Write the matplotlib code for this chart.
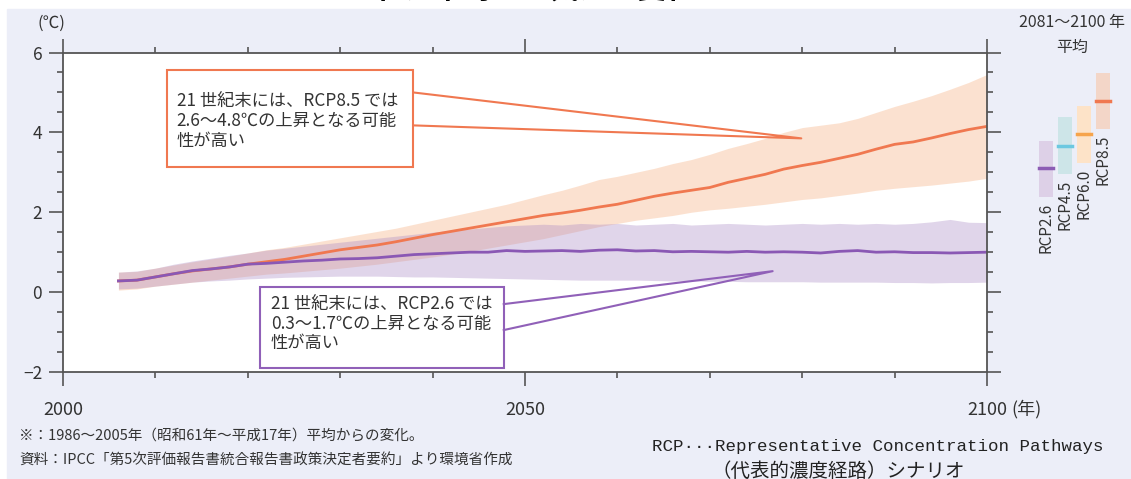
import numpy as np
import matplotlib.pyplot as plt
from matplotlib.patches import Rectangle
from matplotlib.ticker import MultipleLocator, FixedLocator

plt.rcParams['font.family'] = ['Noto Sans CJK JP', 'DejaVu Sans']

# --- data (2-year steps) ---
years = np.arange(2006, 2101, 2)

rcp85_mean = [0.28, 0.30, 0.38, 0.46, 0.53, 0.58, 0.63, 0.70, 0.76, 0.82, 0.90, 0.98,
              1.06, 1.12, 1.18, 1.26, 1.35, 1.44, 1.52, 1.60, 1.68, 1.76, 1.84, 1.92,
              1.98, 2.05, 2.13, 2.20, 2.30, 2.40, 2.48, 2.55, 2.62, 2.75, 2.85, 2.95,
              3.08, 3.17, 3.25, 3.35, 3.45, 3.58, 3.70, 3.76, 3.86, 3.97, 4.07, 4.15]
rcp85_hi = [0.50, 0.52, 0.60, 0.68, 0.76, 0.83, 0.90, 0.98, 1.06, 1.12, 1.20, 1.28,
            1.36, 1.44, 1.52, 1.60, 1.70, 1.80, 1.90, 2.00, 2.10, 2.20, 2.32, 2.44,
            2.55, 2.68, 2.82, 2.90, 3.00, 3.10, 3.22, 3.32, 3.45, 3.60, 3.72, 3.85,
            4.00, 4.12, 4.18, 4.24, 4.35, 4.50, 4.65, 4.78, 4.92, 5.08, 5.25, 5.45]
rcp85_lo = [0.05, 0.08, 0.15, 0.20, 0.25, 0.30, 0.35, 0.40, 0.45, 0.48, 0.52, 0.56,
            0.60, 0.65, 0.70, 0.76, 0.82, 0.88, 0.95, 1.02, 1.10, 1.18, 1.26, 1.34,
            1.44, 1.54, 1.64, 1.72, 1.80, 1.86, 1.92, 2.00, 2.06, 2.10, 2.15, 2.20,
            2.26, 2.32, 2.36, 2.42, 2.48, 2.55, 2.60, 2.64, 2.68, 2.73, 2.78, 2.85]

rcp26_mean = [0.28, 0.30, 0.38, 0.46, 0.54, 0.58, 0.63, 0.70, 0.72, 0.75, 0.78, 0.80,
              0.83, 0.84, 0.86, 0.90, 0.94, 0.96, 0.98, 1.00, 1.00, 1.04, 1.02, 1.03,
              1.04, 1.02, 1.05, 1.06, 1.03, 1.04, 1.01, 1.02, 1.01, 1.00, 1.02, 1.00,
              1.01, 1.00, 0.98, 1.02, 1.04, 1.00, 1.01, 0.99, 0.99, 0.98, 0.99, 1.00]
rcp26_hi = [0.50, 0.53, 0.60, 0.70, 0.78, 0.85, 0.92, 0.98, 1.05, 1.10, 1.15, 1.20,
            1.25, 1.30, 1.35, 1.40, 1.45, 1.50, 1.55, 1.58, 1.62, 1.66, 1.68, 1.70,
            1.68, 1.72, 1.70, 1.72, 1.68, 1.70, 1.72, 1.68, 1.70, 1.72, 1.70, 1.68,
            1.70, 1.72, 1.70, 1.72, 1.70, 1.72, 1.70, 1.72, 1.76, 1.82, 1.75, 1.74]
rcp26_lo = [0.08, 0.10, 0.15, 0.20, 0.25, 0.28, 0.30, 0.33, 0.35, 0.37, 0.38, 0.39,
            0.40, 0.40, 0.40, 0.39, 0.38, 0.38, 0.37, 0.36, 0.35, 0.34, 0.33, 0.32,
            0.31, 0.30, 0.30, 0.30, 0.30, 0.29, 0.28, 0.28, 0.27, 0.27, 0.26, 0.26,
            0.26, 0.26, 0.25, 0.25, 0.25, 0.25, 0.24, 0.24, 0.23, 0.24, 0.24, 0.25]

# 2081-2100 average bars (as drawn in the picture)
bar_names = ['RCP2.6', 'RCP4.5', 'RCP6.0', 'RCP8.5']
bar_lo = [2.38, 2.95, 3.23, 4.08]
bar_hi = [3.78, 4.38, 4.65, 5.48]
bar_mid = [3.10, 3.65, 3.95, 4.78]
bar_fill = ['#ddd0e7', '#cde5e8', '#fde3c8', '#f3d6c8']
bar_line = ['#8c5cb4', '#6cc8e0', '#f6a44c', '#f07850']

W, H = 1131, 479
fig = plt.figure(figsize=(W / 100, H / 100), dpi=100)

# lavender backdrop
bg = fig.add_axes([0, 0, 1, 1], zorder=-10)
bg.set_xlim(0, W)
bg.set_ylim(H, 0)
bg.axis('off')
bg.add_patch(Rectangle((7, 9), W, H, color='#eceef8'))

ax = fig.add_axes([63 / W, (H - 372) / H, (987 - 63) / W, (372 - 52.5) / H])
ax.set_facecolor('white')

ax.fill_between(years, rcp85_lo, rcp85_hi, color='#f5a46e', alpha=0.32, lw=0)
ax.fill_between(years, rcp26_lo, rcp26_hi, color='#a888c4', alpha=0.35, lw=0)
ax.plot(years, rcp85_mean, color='#f07850', lw=2)
ax.plot(years, rcp26_mean, color='#8a58b4', lw=2)

ax.set_xlim(2000, 2100)
ax.set_ylim(-2, 6)
ax.xaxis.set_major_locator(FixedLocator([2000, 2050, 2100]))
ax.xaxis.set_minor_locator(MultipleLocator(10))
ax.yaxis.set_major_locator(MultipleLocator(2))
ax.yaxis.set_minor_locator(MultipleLocator(0.5))
ax.set_xticklabels(['2000', '2050', '2100'])
for s in ax.spines.values():
    s.set_color('#555555')
    s.set_linewidth(1.3)
ax.tick_params(which='both', direction='out', top=True, right=True, color='#555555',
               width=1.2, labelcolor='#333333')
ax.tick_params(which='major', length=10)
ax.tick_params(which='minor', length=4.3)
ax.tick_params(axis='x', which='major', pad=11, labelsize=13)
ax.tick_params(axis='y', which='major', pad=5, labelsize=12.5)
ax.annotate('(年)', xy=(2100, -2), xytext=(24, -37), textcoords='offset pixels',
            fontsize=13, color='#333333', ha='left', va='center', annotation_clip=False)
ax.text(-0.012, 1.09, '(℃)', transform=ax.transAxes, fontsize=12, color='#333333',
        ha='center', va='center')

# callout boxes
orange = '#f07850'
purple = '#9060b8'
ax.add_patch(Rectangle((2011.26, 3.125), 26.62, 2.425, facecolor='white', edgecolor=orange,
                       lw=1.5, zorder=5))
ax.plot([2037.9, 2079.9, 2037.9], [5.0, 3.85, 4.175], color=orange, lw=1.5, zorder=5)
for i, line in enumerate(['21 世紀末には、RCP8.5 では', '2.6～4.8℃の上昇となる可能', '性が高い']):
    ax.text(2012.3, 4.775 - 0.5 * i, line, fontsize=12.4, color='#333333', va='center',
            zorder=6)

ax.add_patch(Rectangle((2021.3, -1.9), 26.4, 2.025, facecolor='white', edgecolor=purple,
                       lw=1.5, zorder=5))
ax.plot([2047.7, 2076.8, 2047.7], [-0.3, 0.525, -0.95], color=purple, lw=1.5, zorder=5)
for i, line in enumerate(['21 世紀末には、RCP2.6 では', '0.3～1.7℃の上昇となる可能', '性が高い']):
    ax.text(2022.5, -0.325 - 0.475 * i, line, fontsize=12.4, color='#333333', va='center',
            zorder=6)

# side bars
bx = fig.add_axes([1036.5 / W, (H - 372) / H, 76 / W, (372 - 52.5) / H])
bx.set_xlim(-0.5, 3.5)
bx.set_ylim(-2, 6)
bx.axis('off')
pos = np.arange(len(bar_names))
bx.bar(pos, np.array(bar_hi) - np.array(bar_lo), bottom=bar_lo, width=0.74, color=bar_fill)
for p, m, lo, c, name in zip(pos, bar_mid, bar_lo, bar_line, bar_names):
    bx.plot([p - 0.37, p + 0.37], [m, m], color=c, lw=2.5)
    bx.text(p, lo - 0.14, name, rotation=90, ha='center', va='top', fontsize=11,
            color='#333333')

fig.text(1072 / W, 1 - 23 / H, '2081～2100 年', fontsize=11.5, color='#333333',
         ha='center', va='center')
fig.text(1072 / W, 1 - 47 / H, '平均', fontsize=11.5, color='#333333',
         ha='center', va='center')

# title (cut off at the top edge) and notes
fig.text(536 / W, 1 + 10 / H, '世界平均地上気温の変化', fontsize=21, weight='bold',
         ha='center', va='center')
fig.text(19 / W, 1 - 436 / H, '※：1986～2005年（昭和61年～平成17年）平均からの変化。',
         fontsize=10.5, color='#333333', va='center')
fig.text(19 / W, 1 - 460 / H, '資料：IPCC「第5次評価報告書統合報告書政策決定者要約」より環境省作成',
         fontsize=10.5, color='#333333', va='center')
fig.text(652 / W, 1 - 447 / H, 'RCP···Representative Concentration Pathways',
         family=['Liberation Mono', 'Noto Sans CJK JP'], fontsize=12.6, color='#222222',
         va='center')
fig.text(838 / W, 1 - 471 / H, '（代表的濃度経路）シナリオ',
         fontsize=14, color='#222222', va='center', ha='center')

fig.savefig('out.png', dpi=100)
